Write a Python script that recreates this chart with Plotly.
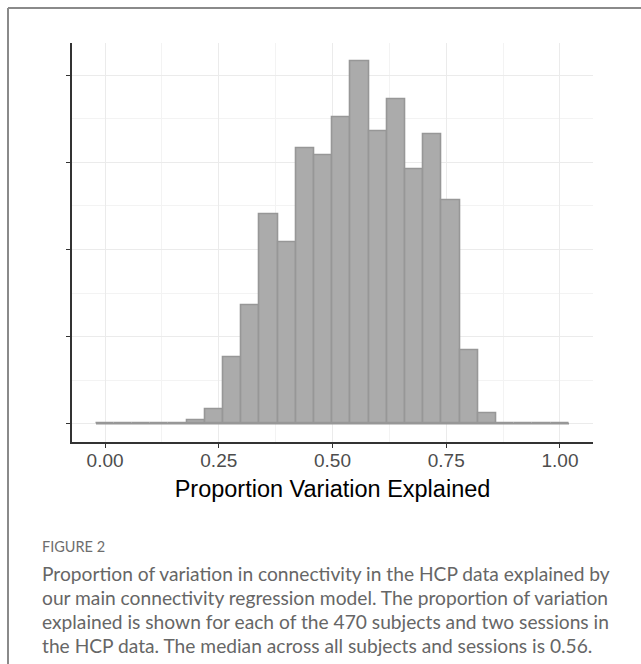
import plotly.graph_objects as go

# ---- data (binwidth 0.04) ----
bin_centers = [0.00, 0.04, 0.08, 0.12, 0.16, 0.20, 0.24, 0.28, 0.32, 0.36, 0.40,
               0.44, 0.48, 0.52, 0.56, 0.60, 0.64, 0.68, 0.72, 0.76, 0.80, 0.84,
               0.88, 0.92, 0.96, 1.00]
counts = [0, 0, 0, 0, 0, 1, 4, 19, 34, 60, 52,
          79, 77, 88, 104, 84, 93, 73, 83, 64, 21, 3,
          0, 0, 0, 0]
bin_width = 0.04
x_ticks = [0.0, 0.25, 0.5, 0.75, 1.0]
x_tick_labels = ["0.00", "0.25", "0.50", "0.75", "1.00"]
x_minor = [0.125, 0.375, 0.625, 0.875]
y_ticks = [0, 25, 50, 75, 100]
y_minor = [12.5, 37.5, 62.5, 87.5]

x_title = "Proportion Variation Explained"
fig_label = "FIGURE 2"
caption_lines = [
    "Proportion of variation in connectivity in the HCP data explained by",
    "our main connectivity regression model. The proportion of variation",
    "explained is shown for each of the 470 subjects and two sessions in",
    "the HCP data. The median across all subjects and sessions is 0.56.",
]

W, H = 641, 664
FILL = "#ababab"
EDGE = "#979797"

fig = go.Figure()

# baseline of empty bins (outline of zero-height bins)
x_lo = bin_centers[0] - bin_width / 2
x_hi = bin_centers[-1] + bin_width / 2
fig.add_trace(go.Scatter(x=[x_lo, x_hi], y=[0, 0], mode="lines",
                         line=dict(color=EDGE, width=1.8),
                         hoverinfo="skip", showlegend=False))
fig.add_trace(go.Bar(x=bin_centers, y=counts, width=bin_width,
                     marker=dict(color=FILL, line=dict(color=EDGE, width=1.6)),
                     showlegend=False))

# ggplot-like expansion
xr = x_hi - x_lo
ymax = max(counts)
x_range = [x_lo - 0.05 * xr, x_hi + 0.05 * xr]
y_range = [-0.05 * ymax, ymax * 1.05]

px = lambda v: v / W
py = lambda v: 1 - v / H

fig.update_layout(
    width=W, height=H,
    margin=dict(l=0, r=0, t=0, b=0),
    paper_bgcolor="white", plot_bgcolor="white",
    bargap=0,
    font=dict(family="Liberation Sans, Arial, sans-serif"),
    xaxis=dict(
        domain=[px(72.3), px(592.7)],
        range=x_range,
        tickvals=x_ticks, ticktext=x_tick_labels,
        tickfont=dict(size=19, color="#4d4d4d"),
        ticks="outside", ticklen=4, tickwidth=1.2, tickcolor="#333333",
        ticklabelstandoff=-3,
        showline=True, linecolor="#333333", linewidth=1.8,
        showgrid=True, gridcolor="#ebebeb", gridwidth=1.2,
        zeroline=False,
        minor=dict(tickvals=x_minor, showgrid=True, gridcolor="#f3f3f3",
                   gridwidth=1, ticks=""),
        title=dict(text=x_title, font=dict(size=23.5, color="#000000"), standoff=10),
        anchor="y",
    ),
    yaxis=dict(
        domain=[py(441.7), py(43.3)],
        range=y_range,
        tickvals=y_ticks, showticklabels=False,
        ticks="outside", ticklen=4, tickwidth=1.2, tickcolor="#333333",
        showline=True, linecolor="#333333", linewidth=1.8,
        showgrid=True, gridcolor="#ebebeb", gridwidth=1.2,
        zeroline=False,
        minor=dict(tickvals=y_minor, showgrid=True, gridcolor="#f3f3f3",
                   gridwidth=1, ticks=""),
        anchor="x",
    ),
)

# frame (left and top border of the figure panel)
fig.add_shape(type="line", xref="paper", yref="paper",
              x0=px(8), y0=0, x1=px(8), y1=py(8),
              line=dict(color="#8a8a8a", width=2))
fig.add_shape(type="line", xref="paper", yref="paper",
              x0=px(8), y0=py(8), x1=1, y1=py(8),
              line=dict(color="#8a8a8a", width=2))

# caption
fig.add_annotation(text=fig_label, xref="paper", yref="paper",
                   x=px(40), y=py(546), xanchor="left", yanchor="middle",
                   showarrow=False,
                   font=dict(family="Lato, Open Sans, sans-serif", size=14.5, color="#6e6e6e"))
for i, line in enumerate(caption_lines):
    fig.add_annotation(text=line, xref="paper", yref="paper",
                       x=px(40), y=py(573 + i * 24.3), xanchor="left", yanchor="middle",
                       showarrow=False,
                       font=dict(family="Lato, Open Sans, sans-serif", size=19.2, color="#666666"))

fig.write_html("out.html")
